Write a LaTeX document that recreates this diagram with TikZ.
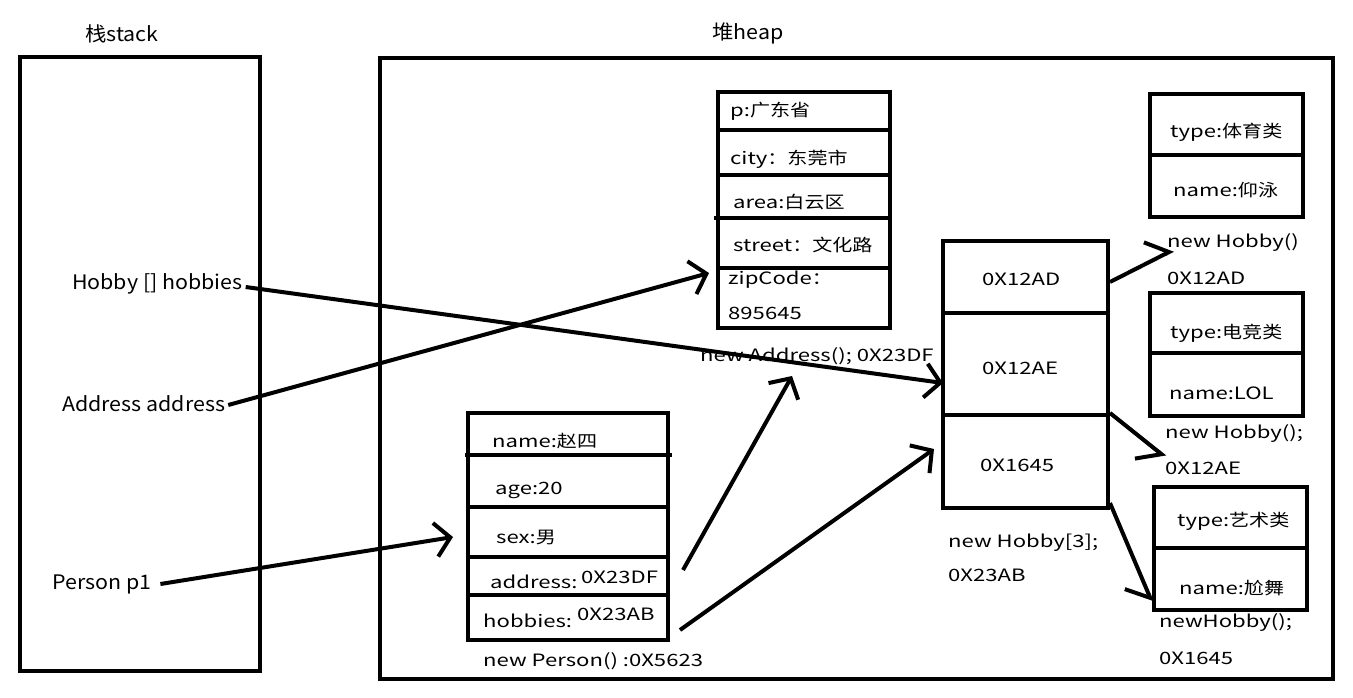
\documentclass[tikz,border=0pt]{standalone}
\usepackage{fontspec}
\setmainfont[FakeStretch=1.3]{Noto Sans CJK SC}
\newfontfamily\zh[FakeStretch=1.18]{Noto Sans CJK SC}
\newfontfamily\stk[FakeStretch=1.07]{Noto Sans CJK SC}
\usetikzlibrary{arrows.meta}
\tikzset{
  cell/.style={draw, line width=4pt, anchor=north west, inner sep=0pt, outer sep=0pt},
  txt/.style={anchor=west, inner sep=1pt, font=\fontsize{17}{20}\selectfont},
  big/.style={anchor=west, inner sep=1pt, font=\stk\fontsize{20}{24}\selectfont},
  ptr/.style={line width=4pt, -{Straight Barb[length=15pt,width=34pt]}},
  hl/.style={line width=4pt, -{Straight Barb[length=18pt,width=40pt,harpoon]}},
  hr/.style={line width=4pt, -{Straight Barb[length=18pt,width=40pt,harpoon,swap]}}
}
\begin{document}
\begin{tikzpicture}[x=1pt,y=-1pt]
\useasboundingbox (0,0) rectangle (1353,697);
% frames
\node[cell, minimum width=240pt, minimum height=614pt] (stack) at (20,57) {};
\node[cell, minimum width=953pt, minimum height=621pt] (heap) at (380,58) {};
\node[big] (stackT) at (84,34) {栈stack};
\node[big] (heapT) at (711,33) {堆heap};
% stack labels
\node[big] (sHob) at (71,284) {Hobby [] hobbies};
\node[big] (sAdr) at (61,404) {Address address};
\node[big] (sPer) at (51,584) {Person p1};
% address object
\node[cell, minimum width=172pt, minimum height=38pt] (a1) at (718,92) {};
\node[cell, minimum width=172pt, minimum height=45pt] (a2) at (718,130) {};
\node[cell, minimum width=172pt, minimum height=43pt] (a3) at (718,175) {};
\node[cell, minimum width=172pt, minimum height=50pt] (a4) at (718,218) {};
\node[cell, minimum width=172pt, minimum height=60pt] (a5) at (718,268) {};
\draw[line width=4pt] (714,218) -- (a4.north west);
\node[txt] (a1t) at (729,111) {p:{\zh 广东省}};
\node[txt] (a2t) at (729,159) {city{\zh ：东莞市}};
\node[txt] (a3t) at (732,202) {area:{\zh 白云区}};
\node[txt] (a4t) at (732,245) {street{\zh ：文化路}};
\node[txt] (a5t) at (727,280) {zipCode{\zh ：}};
\node[txt] (a5u) at (727,313) {895645};
\node[txt] (aLbl) at (699,356) {new Address(); 0X23DF};
% person object
\node[cell, minimum width=200pt, minimum height=42pt] (p1) at (468,413) {};
\node[cell, minimum width=200pt, minimum height=52pt] (p2) at (468,455) {};
\node[cell, minimum width=200pt, minimum height=50pt] (p3) at (468,507) {};
\node[cell, minimum width=200pt, minimum height=38pt] (p4) at (468,557) {};
\node[cell, minimum width=200pt, minimum height=45pt] (p5) at (468,595) {};
\draw[line width=4pt] (p2.north west) ++(-3,0) -- (672,455);
\node[txt] (p1t) at (491,441) {name:{\zh 赵四}};
\node[txt] (p2t) at (494,490) {age:20};
\node[txt] (p3t) at (495,537) {sex:{\zh 男}};
\node[txt] (p4t) at (489,582) {address:};
\node[txt] (p4u) at (580,577) {0X23DF};
\node[txt] (p5t) at (482,621) {hobbies:};
\node[txt] (p5u) at (576,614) {0X23AB};
\node[txt] (pLbl) at (482,661) {new Person() :0X5623};
% array object
\node[cell, minimum width=165pt, minimum height=72pt] (r1) at (943,241) {};
\node[cell, minimum width=165pt, minimum height=102pt] (r2) at (943,313) {};
\node[cell, minimum width=165pt, minimum height=93pt] (r3) at (943,415) {};
\node[txt] (r1t) at (981,279) {0X12AD};
\node[txt] (r2t) at (981,368) {0X12AE};
\node[txt] (r3t) at (979,465) {0X1645};
\node[txt] (rLbl) at (947,543) {new Hobby[3];};
\node[txt] (rLbu) at (947,575) {0X23AB};
% hobby 1
\node[cell, minimum width=153pt, minimum height=61pt] (h1a) at (1150,94) {};
\node[cell, minimum width=153pt, minimum height=62pt] (h1b) at (1150,155) {};
\node[txt] (h1at) at (1169,132) {type:{\zh 体育类}};
\node[txt] (h1bt) at (1172,190) {name:{\zh 仰泳}};
\node[txt] (h1L) at (1166,243) {new Hobby()};
\node[txt] (h1M) at (1166,278) {0X12AD};
% hobby 2
\node[cell, minimum width=153pt, minimum height=60pt] (h2a) at (1150,293) {};
\node[cell, minimum width=153pt, minimum height=63pt] (h2b) at (1150,353) {};
\node[txt] (h2at) at (1169,333) {type:{\zh 电竞类}};
\node[txt] (h2bt) at (1168,393) {name:LOL};
\node[txt] (h2L) at (1164,434) {new Hobby();};
\node[txt] (h2M) at (1164,468) {0X12AE};
% hobby 3
\node[cell, minimum width=153pt, minimum height=61pt] (h3a) at (1154,487) {};
\node[cell, minimum width=153pt, minimum height=62pt] (h3b) at (1154,548) {};
\node[txt] (h3at) at (1176,521) {type:{\zh 艺术类}};
\node[txt] (h3bt) at (1178,588) {name:{\zh 尬舞}};
\node[txt] (h3L) at (1158,623) {newHobby();};
\node[txt] (h3M) at (1158,658) {0X1645};
% connector end points
\coordinate (tHob) at (943,383);
\coordinate (tAdr) at (709,273);
\coordinate (tPer) at (453,537);
\coordinate (sPA) at (683,570);
\coordinate (tPA) at (792,376);
\coordinate (sPH) at (680,630);
\coordinate (tPH) at (934,449);
\coordinate (sR1) at (1110,282);
\coordinate (tR1) at (1173,250);
\coordinate (sR2) at (1110,413);
\coordinate (tR2) at (1165,457);
\coordinate (sR3) at (1110,503);
\coordinate (tR3) at (1152,602);
% connectors
\draw[ptr] (sHob.east) ++(2,3) -- (tHob);
\draw[ptr] (sAdr.east) ++(2,1) -- (tAdr);
\draw[ptr] (sPer.east) ++(8,0) -- (tPer);
\draw[ptr] (sPA) -- (tPA);
\draw[ptr] (sPH) -- (tPH);
\draw[hl] (sR1) -- (tR1);
\draw[hr] (sR2) -- (tR2);
\draw[hr] (sR3) -- (tR3);
\end{tikzpicture}
\end{document}
